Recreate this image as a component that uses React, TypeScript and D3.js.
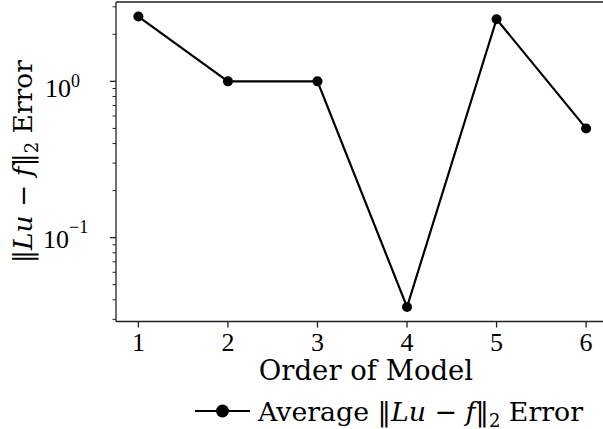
import React from "react";
import * as d3 from "d3";

// model order vs. average residual error
const orders = [1, 2, 3, 4, 5, 6];
const errors = [2.6, 1.0, 1.0, 0.036, 2.5, 0.5];
const xTicks = ["1", "2", "3", "4", "5", "6"];
const yMajorExps = [0, -1];
const yExpLabels = ["0", "\u22121"];

const W = 603;
const H = 429;
const left = 116;
const top = 2;
const bottom = 321.5;
const right = 608.5;

const numFont = "'Liberation Serif', serif";
const txtFont = "'DejaVu Serif', serif";

// matplotlib-ish placement of the 10^k labels (baseline below tick, superscript raise)
const expLayout = [
  { x: 45, base: 15.5, sup: -10 },
  { x: 43, base: 10, sup: -15 },
];

export default function App() {
  // 5% margins like matplotlib
  const x = d3.scaleLinear().domain([0.75, 6.25]).range([left, right]);
  const lo = Math.log10(d3.min(errors) as number);
  const hi = Math.log10(d3.max(errors) as number);
  const pad = (hi - lo) * 0.05;
  const y = d3
    .scaleLog()
    .domain([Math.pow(10, lo - pad), Math.pow(10, hi + pad)])
    .range([bottom, top]);

  const line = d3
    .line<number>()
    .x((d, i) => x(orders[i]))
    .y((d) => y(d));

  // minor ticks on the log axis
  const minor: number[] = [];
  const [dMin, dMax] = y.domain();
  for (let e = -3; e <= 1; e++) {
    for (let k = 2; k <= 9; k++) {
      const v = k * Math.pow(10, e);
      if (v >= dMin && v <= dMax) minor.push(v);
    }
  }

  const legY = 411;

  return (
    <svg
      width={W}
      height={H}
      style={{ position: "absolute", left: 0, top: 0, background: "#fff" }}
    >
      <path
        d={line(errors) || ""}
        fill="none"
        stroke="#000"
        strokeWidth={2.2}
      />
      {errors.map((d, i) => (
        <circle key={i} cx={x(orders[i])} cy={y(d)} r={5} fill="#000" />
      ))}

      {/* spines */}
      <line x1={left} x2={right} y1={top} y2={top} stroke="#222" strokeWidth={1.3} />
      <line x1={left} x2={right} y1={bottom} y2={bottom} stroke="#222" strokeWidth={1.3} />
      <line x1={left} x2={left} y1={top} y2={bottom} stroke="#222" strokeWidth={1.3} />
      <line x1={right} x2={right} y1={top} y2={bottom} stroke="#222" strokeWidth={1.3} />

      {/* x axis */}
      {orders.map((o, i) => (
        <g key={o}>
          <line x1={x(o)} x2={x(o)} y1={bottom} y2={bottom + 6} stroke="#222" strokeWidth={1.3} />
          <text
            x={x(o)}
            y={bottom + 29}
            textAnchor="middle"
            fontFamily={numFont}
            fontSize={26}
          >
            {xTicks[i]}
          </text>
        </g>
      ))}
      <text
        x={366}
        y={380}
        textAnchor="middle"
        fontFamily={txtFont}
        fontSize={27.5}
      >
        Order of Model
      </text>

      {/* y axis */}
      {minor.map((v) => (
        <line key={v} x1={left - 3.5} x2={left} y1={y(v)} y2={y(v)} stroke="#222" strokeWidth={1} />
      ))}
      {yMajorExps.map((e, i) => (
        <g key={e}>
          <line
            x1={left - 6}
            x2={left}
            y1={y(Math.pow(10, e))}
            y2={y(Math.pow(10, e))}
            stroke="#222"
            strokeWidth={1.3}
          />
          <text
            x={expLayout[i].x}
            y={y(Math.pow(10, e)) + expLayout[i].base}
            fontFamily={numFont}
            fontSize={26}
          >
            10
            <tspan fontSize={18} dy={expLayout[i].sup}>
              {yExpLabels[i]}
            </tspan>
          </text>
        </g>
      ))}
      <text
        transform={`translate(32, ${(top + bottom) / 2}) rotate(-90)`}
        textAnchor="middle"
        fontFamily={txtFont}
        fontSize={26.5}
      >
        ‖<tspan fontStyle="italic">Lu</tspan> − <tspan fontStyle="italic">f</tspan>‖
        <tspan fontSize={18} dy={6}>2</tspan>
        <tspan dy={-6}> Error</tspan>
      </text>

      {/* legend */}
      <line x1={195} x2={250} y1={legY} y2={legY} stroke="#000" strokeWidth={2.2} />
      <circle cx={222.5} cy={legY} r={6.5} fill="#000" />
      <text x={258} y={legY + 9.5} fontFamily={txtFont} fontSize={26.8}>
        Average ‖<tspan fontStyle="italic">Lu</tspan> − <tspan fontStyle="italic">f</tspan>‖
        <tspan fontSize={18} dy={6}>2</tspan>
        <tspan dy={-6}> Error</tspan>
      </text>
    </svg>
  );
}
